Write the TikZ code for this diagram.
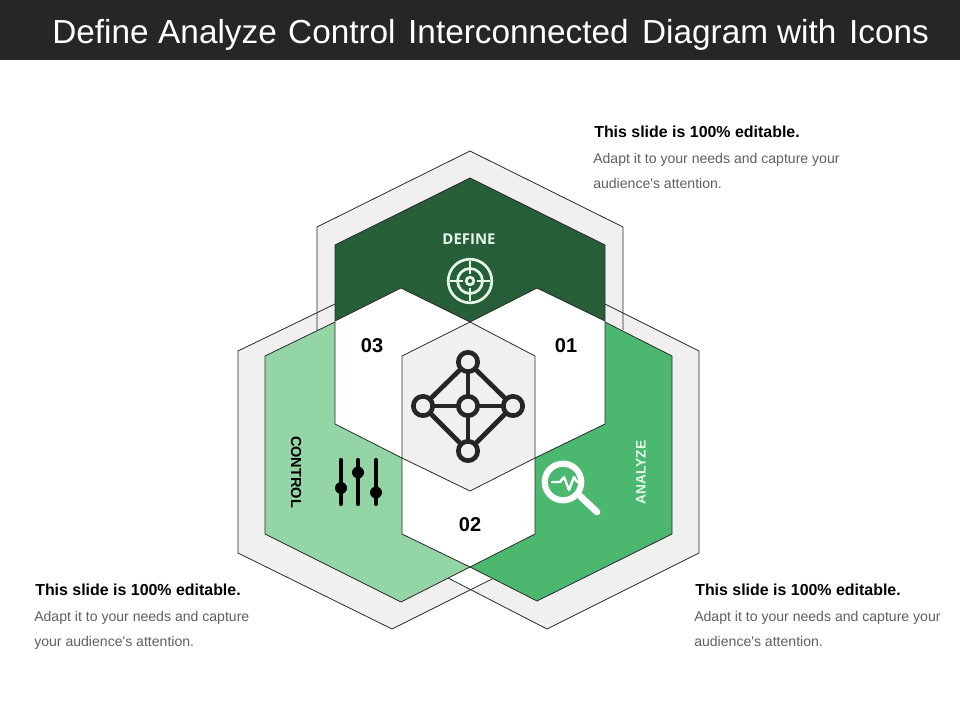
\documentclass[tikz,border=0pt]{standalone}
\usepackage{fontspec}
\setmainfont{Liberation Sans}
\newfontfamily\labelfont{Open Sans}
\definecolor{barc}{HTML}{262626}
\definecolor{greyc}{HTML}{F0F0F0}
\definecolor{darkg}{HTML}{265E38}
\definecolor{midg}{HTML}{4CB86F}
\definecolor{lightg}{HTML}{93D5A5}
\definecolor{edgec}{HTML}{2B2B2B}
\definecolor{bodyc}{HTML}{5F5F5F}
\definecolor{iconc}{HTML}{262626}
\definecolor{paleg}{HTML}{E6F5EA}
\newcommand{\ttlword}[2]{\makebox[#1pt][l]{#2}}
\tikzset{
  x=0.75pt,y=-0.75pt,
  edge/.style={draw=edgec,line width=0.6pt,line join=miter},
  greyfill/.style={fill=greyc,draw=none},
  headtext/.style={anchor=base west,inner sep=0pt,font=\bfseries\fontsize{11.95pt}{14pt}\selectfont,text=black},
  bodytext/.style={anchor=base west,inner sep=0pt,font=\fontsize{10.55pt}{12pt}\selectfont,text=bodyc},
  numtext/.style={inner sep=0pt,font=\bfseries\fontsize{15pt}{17pt}\selectfont,text=black},
  hub/.style={circle,draw=iconc,line width=3.5pt,minimum size=14.5pt,inner sep=0pt,outer sep=0pt,fill=greyc},
  spoke/.style={draw=iconc,line width=3.5pt},
  slider/.style={draw=black,line width=3.2pt,line cap=round},
  knob/.style={fill=black,draw=none},
  whiteline/.style={draw=paleg,line width=1.7pt}
}
\begin{document}
\begin{tikzpicture}
\useasboundingbox (0,0) rectangle (960,720);
\fill[white] (0,0) rectangle (960,720);
\fill[barc] (0,0) rectangle (960,60);
\node[anchor=base west,inner sep=0pt,text=white,font=\fontsize{25pt}{28pt}\selectfont] (title) at (52,44)
  {\ttlword{79.5}{Define}\ttlword{97.5}{Analyze}\ttlword{90}{Control}\ttlword{175.5}{Interconnected}\ttlword{101.25}{Diagram}\ttlword{54}{with}Icons};

% grey outer bands
\fill[greyfill] (317,330) -- (317,227) -- (470,151) -- (623,227) -- (623,330) -- (605,321) -- (605,245) -- (470,178) -- (335,245) -- (335,321) -- cycle;
\fill[greyfill] (317,312) -- (238,351) -- (238,553) -- (392,629) -- (470,590) -- (448,578) -- (401,602) -- (265,534) -- (265,356) -- (317,330) -- cycle;
\fill[greyfill] (623,312) -- (699,351) -- (699,553) -- (547,629) -- (470,590) -- (492,579) -- (537,601) -- (672,534) -- (672,356) -- (623,330) -- cycle;
% outlines of the bands
\draw[edge] (317,330) -- (317,227) -- (470,151) -- (623,227) -- (623,330);
\draw[edge] (335,304) -- (238,351) -- (238,553) -- (392,629) -- (492,579);
\draw[edge] (605,304) -- (699,351) -- (699,553) -- (547,629) -- (448,578);

% coloured blades
\filldraw[fill=lightg,edge] (335,322) -- (335,424) -- (402,458) -- (402,534) -- (470,567) -- (401,602) -- (265,534) -- (265,356) -- cycle;
\filldraw[fill=midg,edge] (605,322) -- (672,356) -- (672,534) -- (537,601) -- (470,567) -- (535,534) -- (535,458) -- (605,424) -- cycle;
\filldraw[fill=darkg,edge] (470,178) -- (605,245) -- (605,321) -- (537,288) -- (470,322) -- (401,288) -- (335,321) -- (335,245) -- cycle;
% centre hexagon
\filldraw[fill=greyc,edge] (470,322) -- (535,356) -- (535,458) -- (470,491) -- (402,458) -- (402,356) -- cycle;

% labels
\node[inner sep=0pt,text=paleg,font=\labelfont\bfseries\fontsize{11.2pt}{13pt}\selectfont] (define) at (469,239.5) {DEFINE};
\node[inner sep=0pt,text=black,rotate=-90,font=\bfseries\fontsize{10.9pt}{12pt}\selectfont] (control) at (296,472) {CONTROL};
\node[inner sep=0pt,text=paleg,rotate=90,font=\bfseries\fontsize{10.3pt}{12pt}\selectfont] (analyze) at (641,472.5) {ANALYZE};
\node[numtext] (n03) at (372,345.5) {03};
\node[numtext] (n01) at (566,345.5) {01};
\node[numtext] (n02) at (470,524.5) {02};

% target icon
\draw[paleg,line width=2pt] (470,281) circle[radius=21.8];
\draw[paleg,line width=2pt] (470,281) circle[radius=12.5];
\draw[paleg,line width=2pt] (470,281) circle[radius=3.8];
\draw[whiteline] (470,261) -- (470,274) (470,288) -- (470,301) (450,281) -- (463,281) (477,281) -- (490,281);

% network icon
\node[hub] (ntop) at (468,362) {};
\node[hub] (nleft) at (423,406) {};
\node[hub] (nmid) at (468,406) {};
\node[hub] (nright) at (513,406) {};
\node[hub] (nbot) at (468,451) {};
\draw[spoke] (ntop) -- (nmid);
\draw[spoke] (nmid) -- (nbot);
\draw[spoke] (nleft) -- (nmid);
\draw[spoke] (nmid) -- (nright);
\draw[spoke] (ntop) -- (nleft);
\draw[spoke] (ntop) -- (nright);
\draw[spoke] (nbot) -- (nleft);
\draw[spoke] (nbot) -- (nright);

% sliders icon
\draw[slider] (341,460) -- (341,504);
\draw[slider] (358,460) -- (358,504);
\draw[slider] (376,460) -- (376,504);
\fill[knob] (341,488) circle[radius=6];
\fill[knob] (358,472.5) circle[radius=6];
\fill[knob] (376,492.5) circle[radius=6];

% magnifier icon
\draw[white,line width=4.6pt] (563,482) circle[radius=18.3];
\draw[white,line width=5pt,line cap=round] (580,496) -- (597,512);
\draw[white,line width=1.8pt,line cap=round,line join=round] (552,482) -- (560,482) -- (564,477) -- (569,490) -- (574,477) -- (577,482) -- (583,482);

% side texts
\node[headtext] (t1h) at (594,138) {This slide is 100\% editable.};
\node[bodytext] (t1a) at (593,164) {Adapt it to your needs and capture your};
\node[bodytext] (t1b) at (593,189) {audience\textquotesingle s attention.};
\node[headtext] (t2h) at (35,595) {This slide is 100\% editable.};
\node[bodytext] (t2a) at (34,621) {Adapt it to your needs and capture};
\node[bodytext] (t2b) at (34,646) {your audience\textquotesingle s attention.};
\node[headtext] (t3h) at (695,595) {This slide is 100\% editable.};
\node[bodytext] (t3a) at (694,621) {Adapt it to your needs and capture your};
\node[bodytext] (t3b) at (694,646) {audience\textquotesingle s attention.};
\end{tikzpicture}
\end{document}
